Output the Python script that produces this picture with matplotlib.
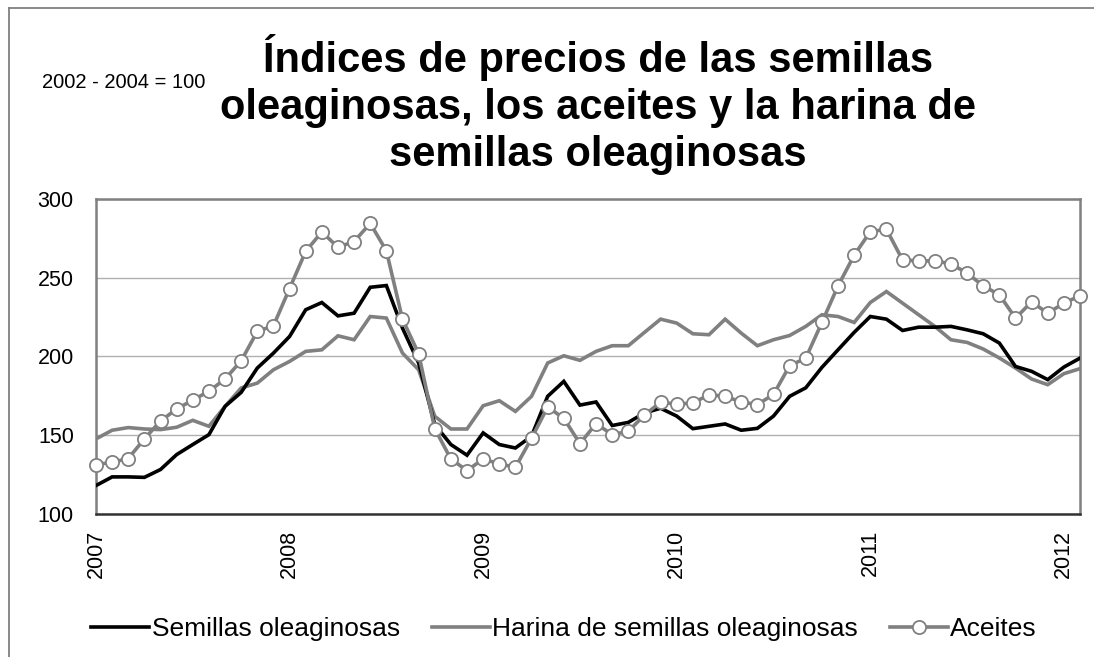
import matplotlib
matplotlib.use("Agg")
import matplotlib.pyplot as plt
from matplotlib.lines import Line2D
import numpy as np

plt.rcParams['font.family'] = ['Liberation Sans', 'DejaVu Sans']

# Monthly data Jan 2007 - Feb 2012
year_labels = ["2007", "2008", "2009", "2010", "2011", "2012"]

semillas = [117.8, 123.3, 123.3, 123.0, 128.0, 137.5, 143.9, 150.2, 168.2, 177.1,
            192.6, 202.1, 212.7, 229.7, 234.3, 225.8, 227.5, 244.0, 245.1, 218.0,
            195.8, 156.6, 143.9, 137.1, 151.3, 143.9, 141.7, 149.2, 174.6, 184.1,
            169.0, 171.0, 156.0, 158.0, 164.0, 167.0, 162.0, 154.0, 155.5, 157.0,
            153.0, 154.2, 162.0, 174.6, 180.0, 193.0, 204.2, 215.3, 225.4, 223.7,
            216.5, 218.6, 218.6, 219.1, 216.9, 214.4, 208.5, 193.6, 190.5, 185.2,
            193.2, 198.9]

harina = [147.5, 153.0, 154.7, 153.8, 153.4, 154.9, 159.3, 155.5, 168.2, 179.9,
          183.0, 191.5, 196.8, 203.2, 204.2, 213.1, 210.6, 225.4, 224.4, 202.1,
          191.5, 161.9, 153.8, 153.8, 168.6, 171.8, 165.0, 174.6, 195.8, 200.4,
          197.5, 203.2, 206.8, 206.8, 215.3, 223.7, 221.2, 214.4, 213.8, 223.7,
          214.8, 206.8, 210.6, 213.3, 219.1, 226.5, 225.4, 221.6, 234.3, 241.3,
          233.9, 226.5, 219.1, 210.6, 208.9, 204.7, 199.0, 192.6, 185.6, 182.0,
          189.0, 192.2]

aceites = [131.1, 132.6, 135.0, 147.5, 158.9, 166.5, 172.2, 177.8, 185.6, 197.2,
           215.9, 219.5, 243.2, 266.9, 279.2, 269.5, 273.1, 284.7, 267.2, 223.7,
           201.7, 154.0, 134.7, 127.3, 134.7, 131.6, 129.4, 147.9, 167.8, 160.6,
           144.5, 157.2, 150.2, 152.3, 162.7, 170.8, 169.7, 170.3, 175.6, 174.6,
           171.0, 169.3, 175.8, 194.1, 198.9, 221.6, 244.9, 264.4, 279.4, 280.9,
           261.4, 260.8, 260.8, 258.9, 253.0, 244.9, 239.2, 224.4, 234.7, 227.5,
           233.9, 238.6]

series_names = ["Semillas oleaginosas", "Harina de semillas oleaginosas", "Aceites"]
title_text = ("Índices de precios de las semillas\n"
              "oleaginosas, los aceites y la harina de\n"
              "semillas oleaginosas")
base_text = "2002 - 2004 = 100"

W, H = 1094, 657
fig = plt.figure(figsize=(W / 100, H / 100), dpi=100)
ax = fig.add_axes([96 / W, 1 - 513.5 / H, (1080 - 96) / W, (513.5 - 199.3) / H])

x = np.arange(len(semillas))
gray = "#808080"
ax.plot(x, semillas, color="black", lw=2.6, label=series_names[0], solid_joinstyle="miter", zorder=3)
ax.plot(x, harina, color=gray, lw=2.6, label=series_names[1], solid_joinstyle="miter", zorder=2)
ax.plot(x, aceites, color=gray, lw=2.6, marker="o", markersize=9.5,
        markerfacecolor="white", markeredgecolor=gray, markeredgewidth=1.3,
        label=series_names[2], zorder=4, clip_on=False)

ax.set_xlim(0, len(semillas) - 1)
ax.set_ylim(100, 300)
ax.set_yticks([100, 150, 200, 250, 300])
ax.set_xticks(np.arange(0, len(semillas), 12))
ax.set_xticklabels(year_labels, rotation=90, va="top", ha="center")
ax.tick_params(axis="both", length=0, labelsize=15.5)
ax.tick_params(axis="y", pad=16)
ax.tick_params(axis="x", pad=12)
ax.yaxis.grid(True, color="#b0b0b0", lw=1.0)
ax.set_axisbelow(True)
for side in ["left", "top", "right"]:
    ax.spines[side].set_color(gray)
    ax.spines[side].set_linewidth(1.8)
ax.spines["bottom"].set_color("#333333")
ax.spines["bottom"].set_linewidth(1.8)

# Title and base note
fig.text(598 / W, 1 - 166 / H, title_text, ha="center", va="baseline",
         multialignment="center", fontsize=30, fontweight="bold", linespacing=1.22)
fig.text(42 / W, 1 - 88 / H, base_text, ha="left", va="baseline", fontsize=14.5)

# Legend
fig.legend(loc="center", bbox_to_anchor=(564 / W, 1 - 629 / H), ncol=3, frameon=False,
           fontsize=19, handlelength=2.2, handletextpad=0.1, columnspacing=1.2)

# Outer chart border (top and left visible)
fig.add_artist(Line2D([9 / W, 1.0], [1 - 8 / H, 1 - 8 / H], color=gray, lw=1.3,
                      transform=fig.transFigure))
fig.add_artist(Line2D([9 / W, 9 / W], [1 - 8 / H, 0.0], color=gray, lw=1.3,
                      transform=fig.transFigure))

fig.savefig("out.png", dpi=100)
